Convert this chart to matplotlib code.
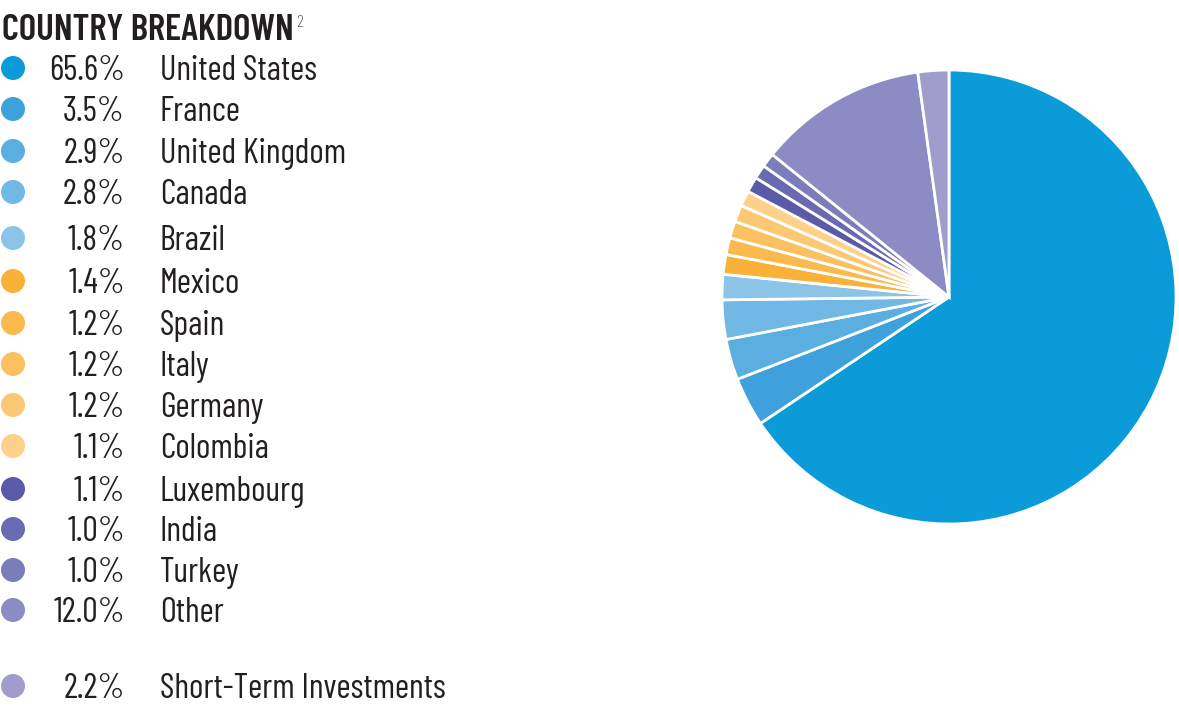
import matplotlib.pyplot as plt
from matplotlib.patches import Circle

# data
countries = ['United States', 'France', 'United Kingdom', 'Canada', 'Brazil',
             'Mexico', 'Spain', 'Italy', 'Germany', 'Colombia',
             'Luxembourg', 'India', 'Turkey', 'Other', 'Short-Term Investments']
weights = [65.6, 3.5, 2.9, 2.8, 1.8, 1.4, 1.2, 1.2, 1.2, 1.1, 1.1, 1.0, 1.0, 12.0, 2.2]
colors = ['#0a9bd8', '#3fa1db', '#5aaee0', '#72b8e4', '#8cc4e8',
          '#f9b13a', '#fbba4d', '#fbc060', '#fcc874', '#fdd18a',
          '#5a5aa8', '#6a6ab3', '#7b7cba', '#8d8bc4', '#a09dcd']

plt.rcParams['font.family'] = ['Barlow Condensed', 'Roboto Condensed', 'DejaVu Sans']
ink = '#231f20'

W, H = 1179, 707
fig = plt.figure(figsize=(W / 100, H / 100), dpi=100)

# pie
cx, cy, r = 949, 297, 227
pax = fig.add_axes([(cx - r) / W, (H - cy - r) / H, 2 * r / W, 2 * r / H])
pax.pie(weights, colors=colors, startangle=90, counterclock=False,
        wedgeprops=dict(edgecolor='white', linewidth=2))
pax.set_xlim(-1, 1)
pax.set_ylim(-1, 1)
pax.set_aspect('equal')
pax.axis('off')

# legend, pixel coords
lax = fig.add_axes([0, 0, 1, 1])
lax.set_xlim(0, W)
lax.set_ylim(H, 0)
lax.axis('off')

lax.text(2, 40, 'COUNTRY BREAKDOWN', fontsize=26.7, fontweight='semibold',
         color=ink, va='baseline', ha='left')
lax.text(296, 27, '2', fontsize=13, fontweight='light', color=ink,
         va='baseline', ha='left')

rows_y = [68, 109, 151, 192, 238, 281, 323, 364, 405, 446, 489, 529, 570, 610, 686]
for y, name, w, c in zip(rows_y, countries, weights, colors):
    lax.add_patch(Circle((13, y), 12, color=c, lw=0))
    lax.text(125, y + 12, f'{w:.1f}%', fontsize=24.8, fontweight='normal',
             color=ink, va='baseline', ha='right')
    lax.text(160, y + 12, name, fontsize=24.8, fontweight='normal',
             color=ink, va='baseline', ha='left')

fig.savefig('out.png', dpi=100)
